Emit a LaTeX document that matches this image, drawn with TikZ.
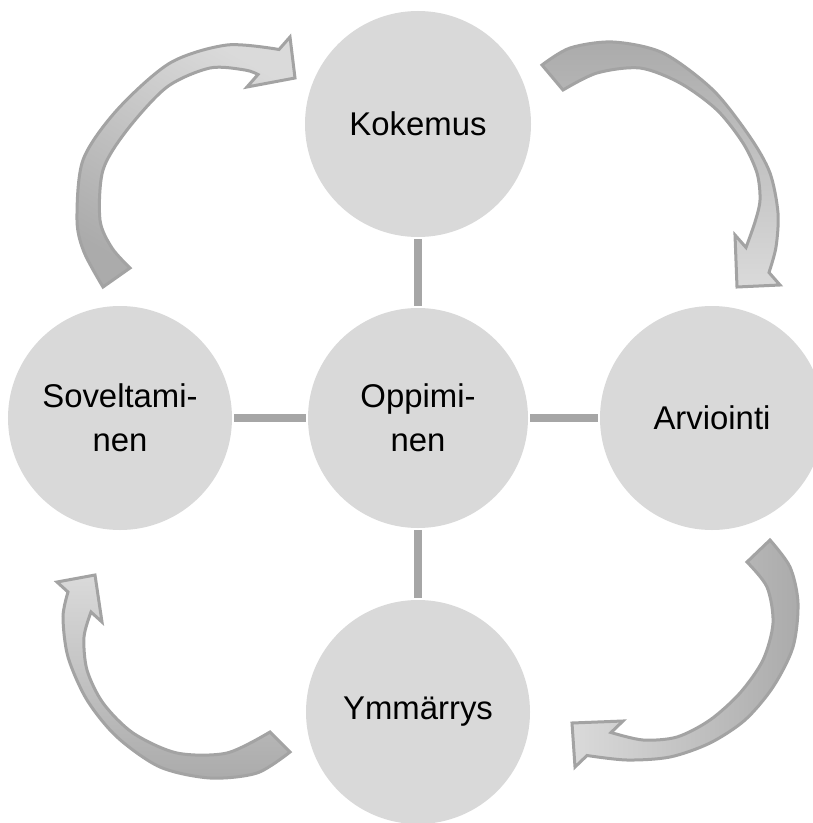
\documentclass[tikz,border=0pt]{standalone}
\usepackage{fontspec}
\setmainfont{Liberation Sans}
\definecolor{circfill}{HTML}{D9D9D9}
\definecolor{linegray}{HTML}{A6A6A6}
\definecolor{arrowline}{HTML}{A3A3A3}
\definecolor{arrowdark}{HTML}{ABABAB}
\definecolor{arrowmid}{HTML}{B6B6B6}
\definecolor{arrowlight}{HTML}{DADADA}
\begin{document}
\begin{tikzpicture}[x=1bp,y=-1bp,
  bubble/.style={circle, fill=circfill, draw=none, inner sep=0pt, align=center,
    font=\fontsize{33}{44}\selectfont},
  link/.style={draw=linegray, line width=8bp, shorten <=2bp, shorten >=2bp},
  bend arrow/.style={draw=arrowline, line width=3bp, line join=miter, miter limit=6}
]
\useasboundingbox (0,0) rectangle (813,823);
\fill[white] (0,0) rectangle (813,823);

% nodes
\node[bubble, minimum size=226bp] (K) at (418,124) {Kokemus};
\node[bubble, minimum size=220bp] (O) at (418,418) {Oppimi-\\nen};
\node[bubble, minimum size=224bp] (S) at (120,418) {Soveltami-\\nen};
\node[bubble, minimum size=224bp] (A) at (712,418) {Arviointi};
\node[bubble, minimum size=224bp] (Y) at (418,712) {Ymmärrys};

% connectors
\draw[link] (K) -- (O);
\draw[link] (O) -- (Y);
\draw[link] (S) -- (O);
\draw[link] (O) -- (A);

% curved arrow: Soveltaminen -> Kokemus
\path[bend arrow, top color=arrowlight, middle color=arrowmid, bottom color=arrowdark, shading angle=-30]
  plot[smooth] coordinates {(103,287) (84,252) (77,220) (83,160) (117,110) (170,63) (227,45) (279,49.5)}
  -- (290,37) -- (295,78) -- (247,87) -- (258,74.5)
  -- plot[smooth] coordinates {(258,74.5) (245,70) (210,68) (167,87) (127,130) (103,170) (100,220) (112,248) (130,268)}
  -- cycle;

% curved arrow: Kokemus -> Arviointi
\path[bend arrow, top color=arrowdark, middle color=arrowmid, bottom color=arrowlight]
  plot[smooth] coordinates {(542,65) (570,48) (613,42) (663,53) (713,90) (750,137) (770,173) (778,213) (776,247) (769,272.5)}
  -- (780,285) -- (737,287) -- (735,235) -- (746,247.5)
  -- plot[smooth] coordinates {(746,247.5) (755,222) (760,200) (757,173) (743,143) (717,110) (680,83) (640,68) (597,73) (563,90)}
  -- cycle;

% curved arrow: Arviointi -> Ymmarrys
\path[bend arrow, left color=arrowlight, middle color=arrowmid, right color=arrowdark]
  plot[smooth] coordinates {(770,540) (790,567) (798,603) (793,647) (773,687) (745,720) (710,743) (670,757) (627,760) (587,755.5)}
  -- (575,767) -- (572,723) -- (623,721) -- (611,732.5)
  -- plot[smooth] coordinates {(611,732.5) (643,740) (677,737) (710,720) (740,693) (763,660) (773,623) (767,587) (747,562)}
  -- cycle;

% curved arrow: Ymmarrys -> Soveltaminen
\path[bend arrow, top color=arrowlight, middle color=arrowmid, bottom color=arrowdark]
  plot[smooth] coordinates {(290,752) (257,773) (210,778) (160,767) (117,737) (87,700) (68,657) (63,617) (68,592)}
  -- (57,582) -- (95,575) -- (102,622) -- (91,612)
  -- plot[smooth] coordinates {(91,612) (84,637) (87,670) (103,703) (133,733) (177,753) (227,753) (270,732)}
  -- cycle;
\end{tikzpicture}
\end{document}
